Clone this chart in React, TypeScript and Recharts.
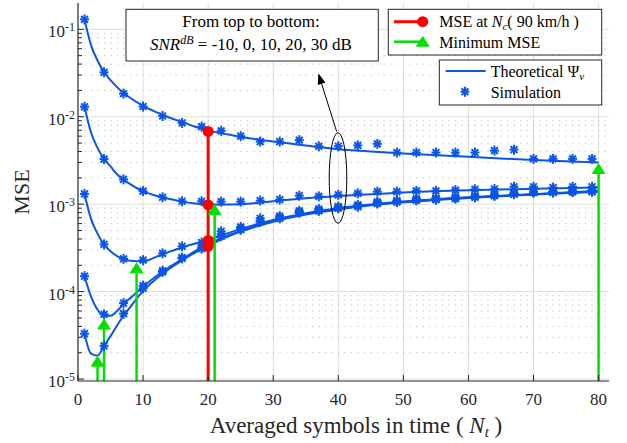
import React from 'react';
import { ComposedChart, Line, Scatter, XAxis, YAxis, CartesianGrid } from 'recharts';

// ---- data ----
const xTicks = [0, 10, 20, 30, 40, 50, 60, 70, 80];
const decades = [1e-5, 1e-4, 1e-3, 1e-2, 1e-1];
const minorTicks = decades.slice(0, 4).flatMap((d) => [2, 3, 4, 5, 6, 7, 8, 9].map((m) => m * d));

// theoretical curves (SNR = -10, 0, 10, 20, 30 dB)
const xTheory = [1, 2, 3, 4, 5, 6, 7, 8, 10, 12, 14, 16, 18, 20, 22, 25, 30, 35, 40, 45, 50, 60, 70, 80];
const theoryM10 = [0.13, 0.066, 0.044, 0.0325, 0.0262, 0.0218, 0.0187, 0.0165, 0.0133, 0.0113, 0.0098, 0.0087, 0.0077, 0.0069, 0.0065, 0.0059, 0.0052, 0.0047, 0.00425, 0.004, 0.0038, 0.00348, 0.0032, 0.003];
const theory0 = [0.013, 0.0066, 0.0044, 0.0033, 0.0027, 0.0022, 0.0019, 0.0017, 0.0014, 0.00125, 0.00115, 0.00107, 0.00102, 0.00099, 0.00099, 0.001, 0.00108, 0.00117, 0.00124, 0.0013, 0.00136, 0.00144, 0.0015, 0.00155];
const theory10 = [0.00131, 0.00068, 0.00046, 0.000345, 0.00029, 0.000255, 0.000237, 0.000225, 0.000222, 0.00025, 0.000285, 0.00032, 0.000355, 0.000385, 0.00044, 0.00052, 0.00066, 0.00079, 0.0009, 0.00099, 0.00107, 0.0012, 0.0013, 0.00142];
const theory20 = [0.00015, 0.000088, 0.000062, 0.000053, 0.000053, 0.00006, 0.000072, 0.000084, 0.000114, 0.00015, 0.00019, 0.000235, 0.00029, 0.000345, 0.00041, 0.000495, 0.00064, 0.00077, 0.00088, 0.00098, 0.00106, 0.00119, 0.0013, 0.0014];
const theory30 = [0.000033, 0.0000195, 0.0000185, 0.000024, 0.000031, 0.000041, 0.000053, 0.000066, 0.000102, 0.00014, 0.000182, 0.000228, 0.00028, 0.00033, 0.000395, 0.000485, 0.00063, 0.00076, 0.00087, 0.00097, 0.00105, 0.00118, 0.00129, 0.00139];

// simulation points
const xSim = [1, 4, 7, 10, 13, 16, 19, 22, 25, 28, 31, 34, 37, 40, 43, 46, 49, 52, 55, 58, 61, 64, 67, 70, 73, 76, 79];
const simM10 = [0.13, 0.0322, 0.0184, 0.0131, 0.0102, 0.0085, 0.0077, 0.0069, 0.006, 0.0052, 0.0052, 0.0054, 0.0046, 0.0046, 0.0047, 0.0049, 0.0039, 0.0039, 0.0039, 0.0039, 0.0039, 0.0041, 0.0042, 0.0033, 0.0033, 0.0033, 0.0033];
const sim0 = [0.013, 0.00328, 0.00192, 0.00141, 0.0012, 0.00108, 0.00108, 0.00107, 0.00107, 0.0011, 0.00113, 0.00125, 0.00123, 0.00128, 0.00133, 0.00139, 0.00139, 0.00142, 0.00142, 0.00145, 0.00148, 0.00149, 0.00158, 0.00158, 0.00155, 0.00158, 0.00158];
const sim10 = [0.00131, 0.000347, 0.000237, 0.000229, 0.000274, 0.00033, 0.000364, 0.00049, 0.00055, 0.00069, 0.00073, 0.00084, 0.00088, 0.00094, 0.00098, 0.00106, 0.0011, 0.00115, 0.00117, 0.0012, 0.00124, 0.00129, 0.00134, 0.00139, 0.00139, 0.00141, 0.00143];
const sim20 = [0.00015, 0.000055, 0.000074, 0.000117, 0.000173, 0.000245, 0.00032, 0.00045, 0.00052, 0.00064, 0.0007, 0.00081, 0.00085, 0.00091, 0.00095, 0.00103, 0.00107, 0.00112, 0.00114, 0.00117, 0.00121, 0.00126, 0.00131, 0.00137, 0.00137, 0.00139, 0.0014];
const sim30 = [0.000033, 0.000024, 0.000056, 0.000109, 0.000168, 0.00024, 0.00031, 0.00043, 0.00051, 0.00063, 0.00069, 0.0008, 0.00084, 0.0009, 0.00094, 0.00102, 0.00106, 0.00111, 0.00113, 0.00116, 0.0012, 0.00125, 0.0013, 0.00136, 0.00136, 0.00138, 0.00139];

// MSE at Nc (90 km/h) and minimum MSE
const ncX = 20;
const ncMse = [0.0068, 0.00098, 0.000385, 0.000352, 0.00033];
const minX = [80, 21, 9, 4, 3];
const minMse = [0.00252, 0.00086, 0.000185, 0.000042, 0.0000158];

const Y_MIN = 9.5e-6;
const Y_MAX = 0.2;
const X_MAX = 81.6;

const FONT = '"Liberation Serif", "Times New Roman", serif';
const INK = '#262626';
const BLUE = '#0b55e4';
const RED = '#ff0000';
const GREEN = '#00e000';

const toPts = (xs: number[], ys: number[]) => xs.map((x, i) => ({ x, y: ys[i] }));
const theory = [theoryM10, theory0, theory10, theory20, theory30].map((ys) => toPts(xTheory, ys));
const sims = [simM10, sim0, sim10, sim20, sim30].map((ys) => toPts(xSim, ys));
const redDots = ncMse.map((y) => ({ x: ncX, y }));
const redStem = [{ x: ncX, y: Y_MIN }, { x: ncX, y: ncMse[0] }];
const greenStems = minX.map((x, i) => [{ x, y: Y_MIN }, { x, y: minMse[i] }]);
const greenTips = toPts(minX, minMse);

const isDecade = (v: number) => Math.abs(Math.log10(v) - Math.round(Math.log10(v))) < 1e-6;
const serif = { fontFamily: FONT };

const StarMark = ({ cx, cy }: any) => (
  <g stroke={BLUE} strokeWidth={2}>
    <line x1={cx - 4.5} x2={cx + 4.5} y1={cy} y2={cy} />
    <line x1={cx} x2={cx} y1={cy - 5} y2={cy + 5} />
    <line x1={cx - 3.4} y1={cy - 3.4} x2={cx + 3.4} y2={cy + 3.4} />
    <line x1={cx - 3.4} y1={cy + 3.4} x2={cx + 3.4} y2={cy - 3.4} />
  </g>
);

const Tri = ({ cx, cy }: any) => (
  <polygon points={`${cx},${cy - 6} ${cx - 7},${cy + 5} ${cx + 7},${cy + 5}`} fill={GREEN} />
);

const Dot = ({ cx, cy }: any) => <circle cx={cx} cy={cy} r={5.5} fill={RED} />;

const LeftTick = ({ x, y, payload }: any) => {
  const v = payload.value;
  const major = isDecade(v);
  return (
    <g>
      <line x1={x} x2={x + (major ? 6 : 4)} y1={y} y2={y} stroke={INK} strokeWidth={1} />
      {major && (
        <text x={x - 3} y={y + 8} textAnchor="end" style={serif} fontSize={17} fill={INK}>
          10<tspan dy={-6} fontSize={12}>{String(Math.round(Math.log10(v)))}</tspan>
        </text>
      )}
    </g>
  );
};

const RightTick = ({ x, y, payload }: any) => {
  const major = isDecade(payload.value);
  return <line x1={x} x2={x - (major ? 6 : 4)} y1={y} y2={y} stroke={INK} strokeWidth={1} />;
};

const BottomTick = ({ x, y, payload }: any) => (
  <g>
    <line x1={x} x2={x} y1={y} y2={y - 6} stroke={INK} strokeWidth={1} />
    <text x={x} y={y + 24} textAnchor="middle" style={serif} fontSize={17} fill={INK}>
      {payload.value}
    </text>
  </g>
);

const TopTick = ({ x, y }: any) => <line x1={x} x2={x} y1={y} y2={y + 6} stroke={INK} strokeWidth={1} />;

const Overlay = () => {
  // arrow from the ellipse to the note box
  const tip = { x: 318.3, y: 73.3 };
  const tail = { x: 336.7, y: 131.7 };
  const len = Math.hypot(tip.x - tail.x, tip.y - tail.y);
  const ux = (tip.x - tail.x) / len;
  const uy = (tip.y - tail.y) / len;
  const bx = tip.x - 11 * ux;
  const by = tip.y - 11 * uy;
  const head = `${tip.x},${tip.y} ${bx - 4 * uy},${by + 4 * ux} ${bx + 4 * uy},${by - 4 * ux}`;
  return (
    <svg width={627} height={443} style={{ position: 'absolute', left: 0, top: 0, pointerEvents: 'none', fontFamily: FONT }}>
      {/* y label */}
      <text transform="translate(29,192) rotate(-90)" textAnchor="middle" fontSize={22} fill={INK}>MSE</text>
      {/* x label */}
      <text x={356} y={433} textAnchor="middle" fontSize={23} fill={INK}>
        Averaged symbols in time ( <tspan fontStyle="italic">N</tspan>
        <tspan fontSize={15} dy={4} fontStyle="italic">t</tspan>
        <tspan dy={-4}> )</tspan>
      </text>

      {/* SNR note */}
      <rect x={126} y={9.3} width={252.3} height={51.7} fill="#fff" stroke={INK} strokeWidth={1} />
      <text x={251} y={27} textAnchor="middle" fontSize={17} fill="#000">From top to bottom:</text>
      <text x={251} y={50} textAnchor="middle" fontSize={17} fill="#000">
        <tspan fontStyle="italic">SNR</tspan>
        <tspan fontStyle="italic" fontSize={12} dy={-6}>dB</tspan>
        <tspan dy={6}> = -10, 0, 10, 20, 30 dB</tspan>
      </text>

      <ellipse cx={338} cy={178} rx={8.8} ry={45.3} fill="none" stroke="#000" strokeWidth={1} />
      <line x1={tail.x} y1={tail.y} x2={bx} y2={by} stroke="#000" strokeWidth={1} />
      <polygon points={head} fill="#000" />

      {/* legend 1 */}
      <rect x={388.3} y={9.3} width={213.4} height={45.7} fill="#fff" stroke={INK} strokeWidth={1} />
      <line x1={394} x2={422.7} y1={21.7} y2={21.7} stroke={RED} strokeWidth={3} />
      <circle cx={422.7} cy={21.7} r={5.5} fill={RED} />
      <text x={439.3} y={26.5} fontSize={16} fill="#000">
        MSE at <tspan fontStyle="italic">N</tspan>
        <tspan fontStyle="italic" fontSize={11} dy={3}>c</tspan>
        <tspan dy={-3}>( 90 km/h )</tspan>
      </text>
      <line x1={394} x2={422.7} y1={41.7} y2={41.7} stroke={GREEN} strokeWidth={2.5} />
      <Tri cx={422.7} cy={41.7} />
      <text x={439.3} y={47.5} fontSize={16} fill="#000">Minimum MSE</text>

      {/* legend 2 */}
      <rect x={439.3} y={60} width={162.4} height={45} fill="#fff" stroke={INK} strokeWidth={1} />
      <line x1={445.7} x2={485.7} y1={71} y2={71} stroke={BLUE} strokeWidth={2} />
      <text x={490.7} y={76.5} fontSize={16} fill="#000">
        Theoretical Ψ<tspan fontStyle="italic" fontSize={11} dy={3}>v</tspan>
      </text>
      <StarMark cx={465} cy={91.7} />
      <text x={490.7} y={97.5} fontSize={16} fill="#000">Simulation</text>
    </svg>
  );
};

export default function App() {
  return (
    <div style={{ position: 'relative', width: 627, height: 443, background: '#fff' }}>
      <style>{'body{margin:0}'}</style>
      <ComposedChart width={627} height={443} margin={{ top: 3, right: 18, bottom: 0, left: 0 }}>
        <CartesianGrid
          horizontalValues={decades}
          verticalValues={[10, 20, 30, 40, 50, 60, 70, 80]}
          stroke="#dedede"
          strokeWidth={1}
        />
        <CartesianGrid horizontalValues={minorTicks} vertical={false} stroke="#bdbdbd" strokeDasharray="1.2 5.3" />
        <XAxis
          type="number"
          dataKey="x"
          domain={[0, X_MAX]}
          ticks={xTicks}
          interval={0}
          allowDataOverflow
          height={62}
          tickSize={0}
          tickMargin={0}
          tickLine={false}
          axisLine={{ stroke: INK, strokeWidth: 1.2 }}
          tick={(p: any) => <BottomTick {...p} />}
        />
        <XAxis
          xAxisId="top"
          orientation="top"
          type="number"
          dataKey="x"
          domain={[0, X_MAX]}
          ticks={xTicks}
          interval={0}
          allowDataOverflow
          height={0}
          tickSize={0}
          tickMargin={0}
          tickLine={false}
          axisLine={{ stroke: INK, strokeWidth: 1.2 }}
          tick={(p: any) => <TopTick {...p} />}
        />
        <YAxis
          type="number"
          dataKey="y"
          scale="log"
          domain={[Y_MIN, Y_MAX]}
          allowDataOverflow
          ticks={[...decades, ...minorTicks]}
          interval={0}
          width={78}
          tickSize={0}
          tickMargin={0}
          tickLine={false}
          axisLine={{ stroke: INK, strokeWidth: 1.2 }}
          tick={(p: any) => <LeftTick {...p} />}
        />
        <YAxis
          yAxisId="right"
          orientation="right"
          type="number"
          dataKey="y"
          scale="log"
          domain={[Y_MIN, Y_MAX]}
          allowDataOverflow
          ticks={[...decades, ...minorTicks]}
          interval={0}
          width={0}
          tickSize={0}
          tickMargin={0}
          tickLine={false}
          axisLine={{ stroke: INK, strokeWidth: 1.2 }}
          tick={(p: any) => <RightTick {...p} />}
        />

        {theory.map((d, i) => (
          <Line
            key={`th${i}`}
            data={d}
            dataKey="y"
            type="monotone"
            stroke={BLUE}
            strokeWidth={2}
            dot={false}
            activeDot={false}
            isAnimationActive={false}
          />
        ))}
        {sims.map((d, i) => (
          <Scatter key={`sim${i}`} data={d} dataKey="y" shape={(p: any) => <StarMark {...p} />} isAnimationActive={false} />
        ))}
        <Line data={redStem} dataKey="y" stroke={RED} strokeWidth={3} dot={false} activeDot={false} isAnimationActive={false} />
        {greenStems.map((d, i) => (
          <Line
            key={`gs${i}`}
            data={d}
            dataKey="y"
            stroke={GREEN}
            strokeWidth={2.5}
            dot={false}
            activeDot={false}
            isAnimationActive={false}
          />
        ))}
        <Scatter data={redDots} dataKey="y" shape={(p: any) => <Dot {...p} />} isAnimationActive={false} />
        <Scatter data={greenTips} dataKey="y" shape={(p: any) => <Tri {...p} />} isAnimationActive={false} />
      </ComposedChart>
      <Overlay />
    </div>
  );
}
